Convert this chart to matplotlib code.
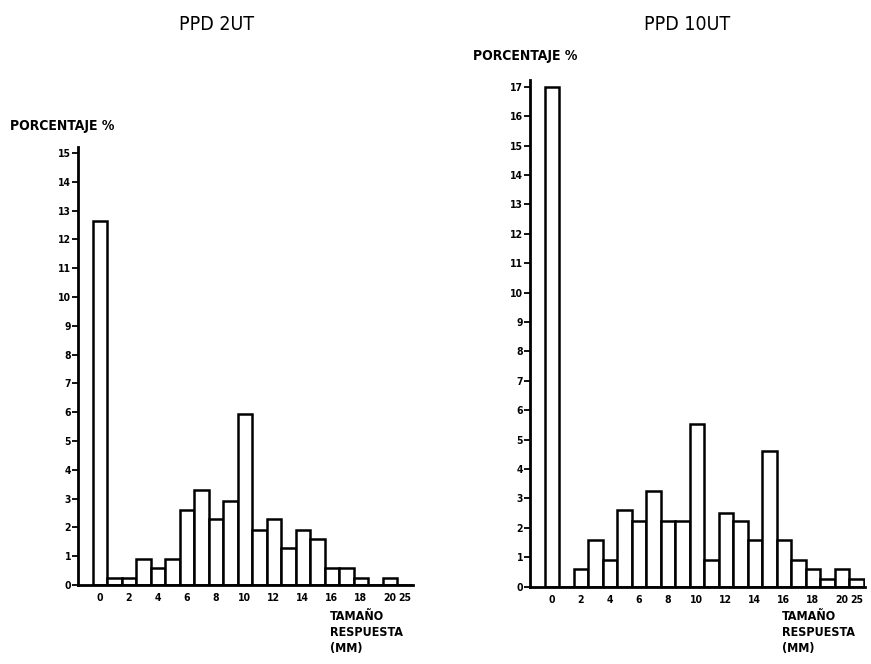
import matplotlib
matplotlib.use("Agg")
import matplotlib.pyplot as plt

plt.rcParams["font.family"] = ["DejaVu Sans"]
plt.rcParams["font.stretch"] = "condensed"

# datos
posiciones = list(range(22))          # la ultima clase lleva la etiqueta 25
etiquetas_x = ["0", "2", "4", "6", "8", "10", "12", "14", "16", "18", "20", "25"]
pos_etiquetas = [0, 2, 4, 6, 8, 10, 12, 14, 16, 18, 20, 21]

ppd_2ut = [12.65, 0.25, 0.25, 0.9, 0.6, 0.9, 2.6, 3.3, 2.3, 2.9, 5.95,
           1.9, 2.3, 1.3, 1.9, 1.6, 0.6, 0.6, 0.25, 0.0, 0.25, 0.0]
ppd_10ut = [17.0, 0.0, 0.6, 1.6, 0.9, 2.6, 2.25, 3.25, 2.25, 2.25, 5.55,
            0.9, 2.5, 2.25, 1.6, 4.6, 1.6, 0.9, 0.6, 0.25, 0.6, 0.25]

W, H = 871, 664
fig = plt.figure(figsize=(W / 100, H / 100), dpi=100)


def px(x, y):
    return x / W, 1 - y / H


def histograma(rect, valores, ymax, yticks):
    ax = fig.add_axes(rect)
    ax.bar(posiciones, valores, width=1.0, color="white",
           edgecolor="black", linewidth=1.8)
    ax.set_xlim(-1.5, 21.6)
    ax.set_ylim(0, ymax)
    ax.spines["top"].set_visible(False)
    ax.spines["right"].set_visible(False)
    ax.spines["left"].set_linewidth(2)
    ax.spines["bottom"].set_linewidth(2)
    ax.set_xticks(pos_etiquetas)
    ax.set_xticklabels(etiquetas_x, fontsize=7.5, fontweight="bold")
    ax.tick_params(axis="x", length=0, pad=6)
    ax.set_yticks(yticks)
    ax.set_yticklabels([str(t) for t in yticks], fontsize=7.5, fontweight="bold")
    ax.tick_params(axis="y", direction="out", length=4, width=1.3, pad=1)
    return ax


histograma([78 / W, (H - 585) / H, 335 / W, 437.8 / H], ppd_2ut, 15.2, list(range(16)))
histograma([530 / W, (H - 586.7) / H, 335 / W, 507.2 / H], ppd_10ut, 17.25, list(range(18)))

fig.text(*px(217, 25), "PPD 2UT", ha="center", va="center", fontsize=14)
fig.text(*px(687, 25), "PPD 10UT", ha="center", va="center", fontsize=14)

fig.text(*px(10, 126), "PORCENTAJE %", ha="left", va="center", fontsize=10, fontweight="bold")
fig.text(*px(473, 56), "PORCENTAJE %", ha="left", va="center", fontsize=10, fontweight="bold")

fig.text(*px(330, 610), "TAMAÑO\nRESPUESTA\n(MM)", ha="left", va="top",
         fontsize=9, fontweight="bold", linespacing=1.3)
fig.text(*px(782, 610), "TAMAÑO\nRESPUESTA\n(MM)", ha="left", va="top",
         fontsize=9, fontweight="bold", linespacing=1.3)

fig.savefig("out.png", dpi=100)
